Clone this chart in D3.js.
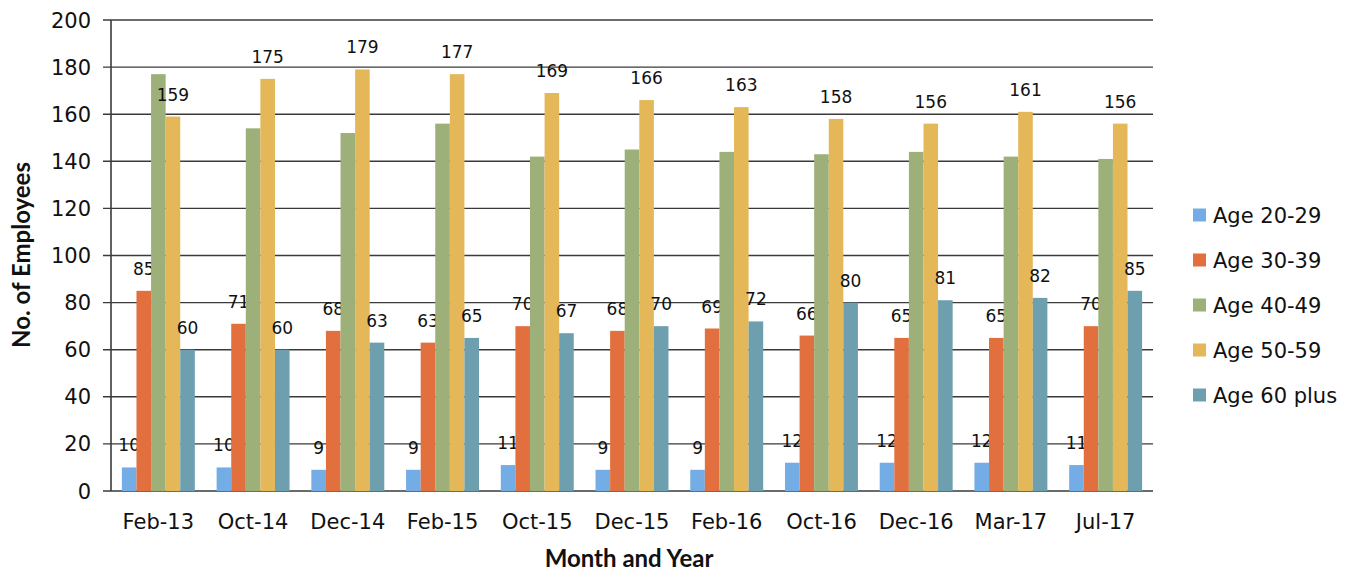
<!DOCTYPE html>
<html>
<head>
<meta charset="utf-8">
<script src="https://cdn.jsdelivr.net/npm/d3@7"></script>
<style>
  body { margin: 0; background: #fff; }
  text { font-family: "DejaVu Sans", sans-serif; fill: #111; }
  .title { font-family: "Lato", sans-serif; font-weight: bold; }
</style>
</head>
<body>
<div id="chart"></div>
<script>
// categories and series
var months = ["Feb-13", "Oct-14", "Dec-14", "Feb-15", "Oct-15", "Dec-15", "Feb-16", "Oct-16", "Dec-16", "Mar-17", "Jul-17"];
var seriesNames = ["Age 20-29", "Age 30-39", "Age 40-49", "Age 50-59", "Age 60 plus"];
var age20 = [10, 10, 9, 9, 11, 9, 9, 12, 12, 12, 11];
var age30 = [85, 71, 68, 63, 70, 68, 69, 66, 65, 65, 70];
var age40 = [177, 154, 152, 156, 142, 145, 144, 143, 144, 142, 141];
var age50 = [159, 175, 179, 177, 169, 166, 163, 158, 156, 161, 156];
var age60 = [60, 60, 63, 65, 67, 70, 72, 80, 81, 82, 85];
var showLabel = [true, true, false, true, true];   // 40-49 has no value labels
var yTicks = [0, 20, 40, 60, 80, 100, 120, 140, 160, 180, 200];
var colors = ["#74ade6", "#e2703f", "#9db07a", "#e4b858", "#6d9fae"];

var allSeries = [age20, age30, age40, age50, age60];

var W = 1349, H = 572;
var margin = { top: 20, left: 111, right: 196, bottom: 81 };
var width = W - margin.left - margin.right,
    height = H - margin.top - margin.bottom;

var svg = d3.select("#chart").append("svg")
    .attr("width", W).attr("height", H);
var g = svg.append("g")
    .attr("transform", "translate(" + margin.left + "," + margin.top + ")");

var x = d3.scaleBand().domain(months).range([0, width]).paddingInner(0.23).paddingOuter(0.115);
var xs = d3.scaleBand().domain(d3.range(5)).range([0, x.bandwidth()]);
var y = d3.scaleLinear().domain([0, 200]).range([height, 0]);

// gridlines, poking out a little left of the axis
g.append("g")
    .selectAll("line")
    .data(yTicks)
    .enter().append("line")
    .attr("x1", -8).attr("x2", width)
    .attr("y1", function(d) { return y(d); })
    .attr("y2", function(d) { return y(d); })
    .attr("stroke", "#3a3a3a")
    .attr("stroke-width", 1.4);

g.append("line")
    .attr("x1", 0).attr("x2", 0)
    .attr("y1", 0).attr("y2", height)
    .attr("stroke", "#3a3a3a").attr("stroke-width", 1.6);

// y tick labels
g.append("g")
    .selectAll("text")
    .data(yTicks)
    .enter().append("text")
    .attr("x", -20)
    .attr("y", function(d) { return y(d); })
    .attr("dy", "0.36em")
    .attr("text-anchor", "end")
    .style("font-size", "21px")
    .text(function(d) { return d; });

// bars + value labels
allSeries.forEach(function(vals, si) {
    g.append("g").attr("fill", colors[si])
        .selectAll("rect")
        .data(vals)
        .enter().append("rect")
        .attr("x", function(d, i) { return x(months[i]) + xs(si); })
        .attr("y", function(d) { return y(d); })
        .attr("width", xs.bandwidth())
        .attr("height", function(d) { return height - y(d); });

    if (showLabel[si]) {
        g.append("g").selectAll("text")
            .data(vals)
            .enter().append("text")
            .attr("x", function(d, i) { return x(months[i]) + xs(si) + xs.bandwidth() / 2; })
            .attr("y", function(d) { return y(d) - 16; })
            .attr("text-anchor", "middle")
            .style("font-size", "17px")
            .text(function(d) { return d; });
    }
});

// x tick labels
g.append("g")
    .selectAll("text")
    .data(months)
    .enter().append("text")
    .attr("x", function(d) { return x(d) + x.bandwidth() / 2; })
    .attr("y", height + 38)
    .attr("text-anchor", "middle")
    .style("font-size", "21px")
    .text(function(d) { return d; });

// axis titles
svg.append("text")
    .attr("class", "title")
    .attr("x", 629)
    .attr("y", H - 5)
    .attr("text-anchor", "middle")
    .style("font-size", "24px")
    .text("Month and Year");

svg.append("text")
    .attr("class", "title")
    .attr("transform", "translate(30,255) rotate(-90)")
    .attr("text-anchor", "middle")
    .style("font-size", "24px")
    .text("No. of Employees");

// legend
var legend = svg.append("g").attr("transform", "translate(1193,215)");
seriesNames.forEach(function(name, i) {
    var row = legend.append("g").attr("transform", "translate(0," + (i * 45) + ")");
    row.append("rect")
        .attr("x", 0).attr("y", -6.5)
        .attr("width", 13).attr("height", 13)
        .attr("fill", colors[i]);
    row.append("text")
        .attr("x", 20).attr("y", 0)
        .attr("dy", "0.36em")
        .style("font-size", "21px")
        .text(name);
});
</script>
</body>
</html>
